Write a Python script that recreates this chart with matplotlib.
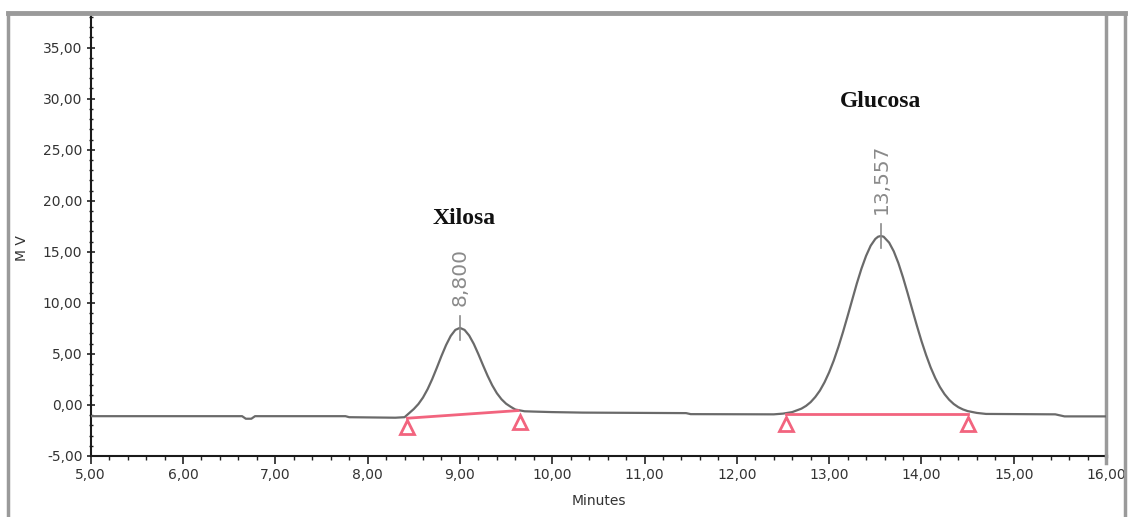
"""Chromatogram of xylose and glucose (HPLC trace)."""

import matplotlib.pyplot as plt
from matplotlib.lines import Line2D
from matplotlib.ticker import MultipleLocator, FuncFormatter

# detector trace (minutes, mV)
time = [5.0, 6.0, 6.64, 6.68, 6.74, 6.78, 7.76, 7.8, 8.3, 8.4,
        8.45, 8.5, 8.55, 8.6, 8.65, 8.7, 8.75, 8.8, 8.85, 8.9,
        8.95, 9.0, 9.05, 9.1, 9.15, 9.2, 9.25, 9.3, 9.35, 9.4,
        9.45, 9.5, 9.55, 9.6, 9.7, 9.8, 10.0, 10.33, 11.45, 11.5,
        12.4, 12.5, 12.6, 12.7, 12.75, 12.8, 12.85, 12.9, 12.95, 13.0,
        13.05, 13.1, 13.15, 13.2, 13.25, 13.3, 13.35, 13.4, 13.45, 13.5,
        13.53, 13.56, 13.59, 13.65, 13.7, 13.75, 13.8, 13.85, 13.9, 13.95,
        14.0, 14.05, 14.1, 14.15, 14.2, 14.25, 14.3, 14.35, 14.4, 14.45,
        14.5, 14.6, 14.7, 15.45, 15.55, 16.0]
signal = [-1.1, -1.1, -1.1, -1.35, -1.35, -1.1, -1.1, -1.2, -1.25, -1.2,
          -0.8, -0.4, 0.09, 0.73, 1.55, 2.54, 3.65, 4.8, 5.87, 6.76,
          7.35, 7.55, 7.35, 6.8, 5.98, 4.97, 3.89, 2.85, 1.92, 1.15,
          0.56, 0.12, -0.18, -0.45, -0.62, -0.65, -0.7, -0.75, -0.8, -0.9,
          -0.92, -0.85, -0.7, -0.36, -0.09, 0.28, 0.78, 1.41, 2.22, 3.2,
          4.35, 5.68, 7.14, 8.7, 10.3, 11.9, 13.35, 14.6, 15.6, 16.26,
          16.48, 16.55, 16.48, 15.9, 15.05, 13.9, 12.5, 10.96, 9.36, 7.78,
          6.27, 4.9, 3.67, 2.63, 1.76, 1.06, 0.51, 0.09, -0.22, -0.44,
          -0.6, -0.78, -0.88, -0.92, -1.12, -1.12]

# integration baselines (start/end of each peak)
base_x = [[8.43, 9.63], [12.53, 14.5]]
base_y = [[-1.3, -0.55], [-0.85, -0.85]]
marker_x = [8.43, 9.65, 12.53, 14.5]
marker_y = [-2.2, -1.7, -1.9, -1.9]

# peaks
peak_rt = [9.0, 13.56]
peak_top = [7.55, 16.55]
peak_labels = ['8,800', '13,557']
names = ['Xilosa', 'Glucosa']
name_y = [18.3, 29.7]

RED = '#f2647e'
GRAY = '#9a9a9a'

fig = plt.figure(figsize=(11.3, 5.17), dpi=100)
ax = fig.add_axes([0.0803, 0.118, 0.8985, 0.857])

ax.plot(time, signal, color='#6a6a6a', lw=1.6, zorder=3,
        solid_joinstyle='round')
for bx, by in zip(base_x, base_y):
    ax.plot(bx, by, color=RED, lw=2.0, zorder=4)
ax.plot(marker_x, marker_y, ls='none', marker='^', ms=10, mfc='white',
        mec=RED, mew=2.0, zorder=5)

for rt, top, lab, name, ny in zip(peak_rt, peak_top, peak_labels, names,
                                   name_y):
    ax.plot([rt, rt], [top - 1.2, top + 1.2], color='#8a8a8a', lw=1.2,
            zorder=4)
    ax.annotate(lab, (rt, top), xytext=(0, 16), textcoords='offset points',
                rotation=90, ha='center', va='bottom', fontsize=14.5,
                color='#8a8a8a')
    ax.text(rt + 0.05 * (rt < 10), ny, name, ha='center', va='center',
            fontsize=17, fontweight='bold', family='Liberation Serif',
            color='#111111')

ax.set_xlim(5.0, 16.0)
ax.set_ylim(-5.0, 38.4)
ax.xaxis.set_major_locator(MultipleLocator(1.0))
ax.xaxis.set_minor_locator(MultipleLocator(0.2))
ax.yaxis.set_major_locator(MultipleLocator(5.0))
ax.yaxis.set_minor_locator(MultipleLocator(1.0))
fmt = FuncFormatter(lambda v, _: f'{v:.2f}'.replace('.', ','))
ax.xaxis.set_major_formatter(fmt)
ax.yaxis.set_major_formatter(fmt)
ax.tick_params(which='major', length=6, width=1.2, color='#222222',
               labelsize=10, labelcolor='#333333', pad=3)
ax.tick_params(which='minor', length=3, width=1.0, color='#222222')
ax.tick_params(axis='y', which='both', direction='inout')

ax.set_xlabel('Minutes', fontsize=10, color='#333333', labelpad=8)
ax.set_ylabel('M V', fontsize=10, color='#333333')
ax.yaxis.set_label_coords(-0.061, 0.47)

for side in ('left', 'bottom'):
    ax.spines[side].set_color('#1a1a1a')
    ax.spines[side].set_linewidth(1.5)
ax.spines['right'].set_color(GRAY)
ax.spines['right'].set_linewidth(2.5)
ax.spines['top'].set_visible(False)

# outer frame of the instrument printout
fig.add_artist(Line2D([0.007, 0.996], [0.975, 0.975], color=GRAY, lw=3.5))
fig.add_artist(Line2D([0.007, 0.007], [0.0, 0.975], color=GRAY, lw=2.5))
fig.add_artist(Line2D([0.996, 0.996], [0.0, 0.975], color=GRAY, lw=2.5))
fig.add_artist(Line2D([0.9788, 0.9788], [0.104, 0.118], color=GRAY, lw=2.5))

fig.savefig('out.png', dpi=100, facecolor='white')
